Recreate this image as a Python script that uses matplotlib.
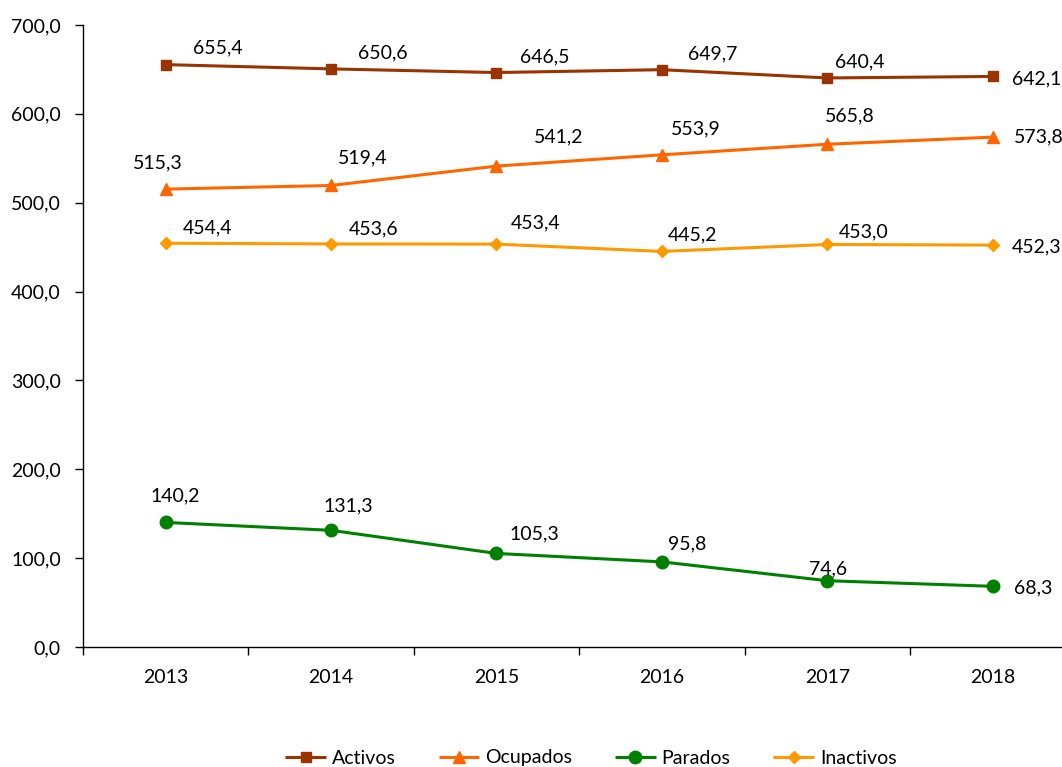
import matplotlib
matplotlib.use('Agg')
import matplotlib.pyplot as plt
from matplotlib.ticker import MultipleLocator, FuncFormatter

# data
years = ['2013', '2014', '2015', '2016', '2017', '2018']
activos = [655.4, 650.6, 646.5, 649.7, 640.4, 642.1]
ocupados = [515.3, 519.4, 541.2, 553.9, 565.8, 573.8]
parados = [140.2, 131.3, 105.3, 95.8, 74.6, 68.3]
inactivos = [454.4, 453.6, 453.4, 445.2, 453.0, 452.3]

# label offsets (pixels, x right / y up) per point, like Excel's placement
offs = {
    'Activos':   [(52, 17), (52, 16), (48, 16), (51, 16), (32, 16), (44, -2)],
    'Ocupados':  [(-8, 26), (32, 28), (62, 29), (34, 26), (22, 28), (46, 0)],
    'Parados':   [(10, 27), (17, 24), (38, 20), (25, 18), (1, 12), (40, -2)],
    'Inactivos': [(42, 15), (42, 15), (39, 21), (31, 17), (36, 13), (44, -2)],
}

series = [
    ('Activos', activos, '#993300', 's', 7),
    ('Ocupados', ocupados, '#FF6600', '^', 9),
    ('Parados', parados, '#008000', 'o', 9),
    ('Inactivos', inactivos, '#FF9900', 'D', 6.5),
]

plt.rcParams['font.family'] = ['Lato', 'DejaVu Sans']
fs = 14

fig = plt.figure(figsize=(10.62, 7.67), dpi=100)
ax = fig.add_axes([83 / 1062, 1 - 647 / 767, 992.4 / 1062, 622 / 767])

x = list(range(len(years)))
for name, vals, col, mk, ms in series:
    ax.plot(x, vals, color=col, lw=2.2, marker=mk, ms=ms, label=name,
            solid_capstyle='butt')
    for i, v in enumerate(vals):
        dx, dy = offs[name][i]
        ax.annotate(f'{v:.1f}'.replace('.', ','), (i, v),
                    xytext=(dx * 0.72, dy * 0.72), textcoords='offset points',
                    ha='center', va='center', fontsize=fs, color='black')

ax.set_xlim(-0.5, 5.5)
ax.set_ylim(0, 700)
ax.yaxis.set_major_locator(MultipleLocator(100))
ax.yaxis.set_major_formatter(FuncFormatter(lambda v, p: f'{v:.1f}'.replace('.', ',')))
ax.set_xticks(x)
ax.set_xticklabels(years)
ax.set_xticks([i + 0.5 for i in range(-1, 6)], minor=True)
ax.tick_params(axis='x', which='major', length=0, pad=16, labelsize=fs)
ax.tick_params(axis='x', which='minor', length=6, width=1)
ax.tick_params(axis='y', length=6, width=1, labelsize=fs, pad=10)
for s in ['top', 'right']:
    ax.spines[s].set_visible(False)
for s in ['left', 'bottom']:
    ax.spines[s].set_linewidth(1)

fig.legend(loc='center', bbox_to_anchor=(591 / 1062, 1 - 758 / 767), ncol=4,
           frameon=False, fontsize=fs, handlelength=2.1, columnspacing=2.2,
           handletextpad=0.3)

fig.savefig('out.png', dpi=100)
